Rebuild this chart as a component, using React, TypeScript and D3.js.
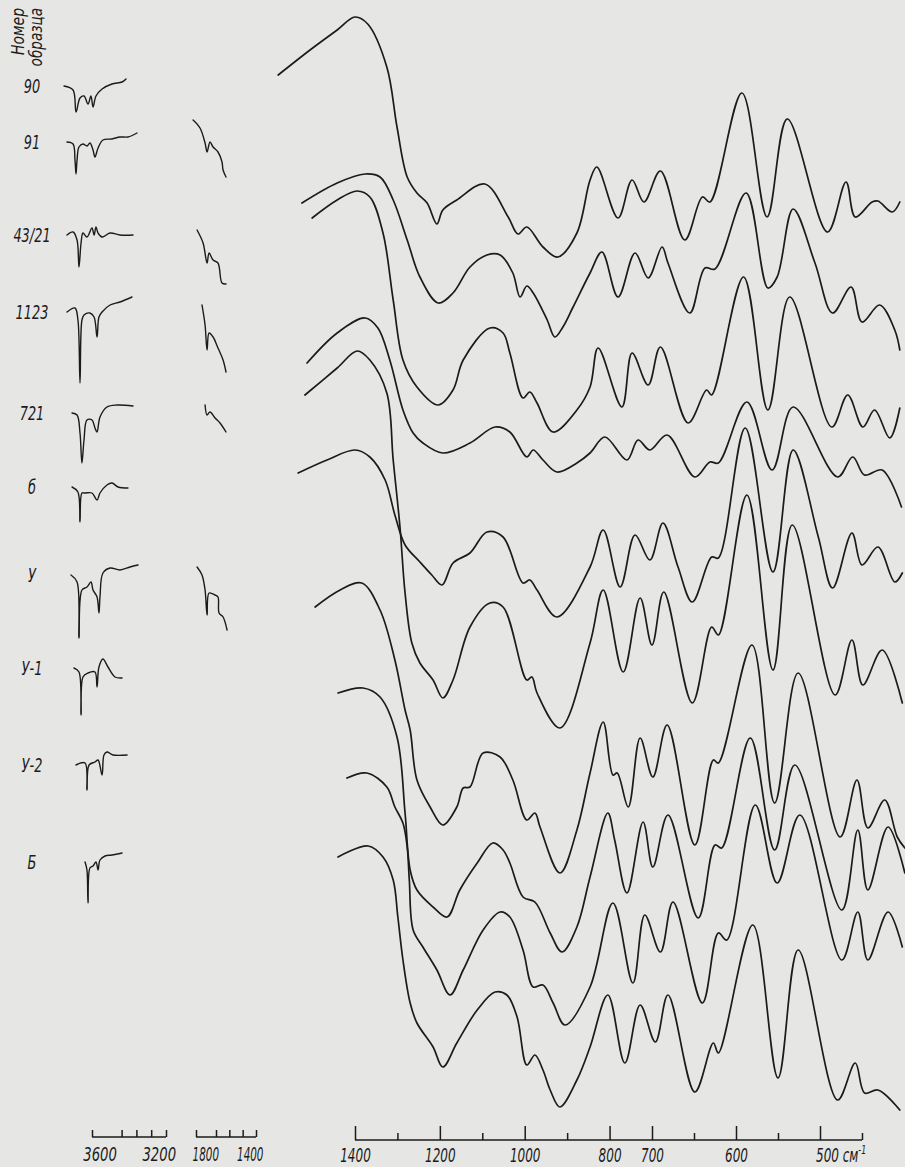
import React, { useEffect, useRef } from "react";
import * as d3 from "d3";

const W = 905;
const H = 1167;
const INK = "#1b1b1b";
const PAPER = "#e6e6e4";
const FONT = "'DejaVu Sans', 'Liberation Sans', sans-serif";

// sample numbers, top to bottom
const samples = ["90", "91", "43/21", "1123", "721", "б", "У", "У-1", "У-2", "Б"];

// main spectra, 1600-400 cm-1: [wavenumber, level] (level in chart units, growing downward)
const spec90 = [[1581,7.5],[1506,5.0],[1442,3.0],[1400,1.7],[1370,2.4],[1325,6.7],[1301,12.7],[1277,17.7],[1254,19.3],[1230,20.3],[1207,22.4],[1193,21.0],[1160,20.0],[1094,18.4],[1039,21.7],[1016,23.4],[995,22.7],[957,24.7],[922,25.7],[877,23.3],[846,18.0],[830,16.7],[780,21.8],[747,18.0],[719,20.2],[690,17.1],[661,24.0],[640,19.7],[631,20.2],[593,9.3],[563,21.7],[539,11.9],[491,23.2],[469,18.2],[458,21.7],[438,20.2],[431,20.1],[414,21.2],[405,20.2]];
const spec91 = [[1525,20.3],[1442,18.3],[1376,17.4],[1341,17.7],[1310,20.0],[1277,24.0],[1247,27.7],[1204,30.3],[1169,29.3],[1129,26.7],[1089,25.5],[1058,25.5],[1028,27.3],[1011,29.7],[995,28.6],[980,29.3],[947,32.0],[929,33.7],[910,32.7],[886,30.7],[846,27.3],[818,25.2],[780,29.7],[740,25.3],[709,27.8],[688,24.7],[681,26.3],[655,31.3],[637,26.8],[625,26.9],[588,19.3],[562,28.8],[551,27.7],[532,20.9],[506,26.3],[485,31.3],[463,28.7],[450,32.2],[429,30.5],[411,33.0],[405,35.0]];
const spec4321 = [[1501,21.8],[1442,20.0],[1395,19.1],[1365,19.7],[1334,23.3],[1310,30.0],[1287,36.0],[1254,38.7],[1204,40.5],[1169,39.0],[1145,36.0],[1082,32.8],[1051,33.3],[1035,35.3],[1004,39.8],[988,39.2],[971,40.3],[933,43.2],[877,41.0],[846,38.7],[827,34.8],[771,40.7],[747,35.3],[709,38.5],[690,34.7],[657,42.3],[635,39.0],[629,39.5],[591,27.7],[562,41.0],[536,29.7],[486,42.7],[467,39.5],[449,42.7],[435,41.0],[417,43.8],[405,40.8]];
const spec1123 = [[1513,36.3],[1442,33.3],[1376,31.8],[1346,32.8],[1318,36.0],[1287,41.0],[1263,43.3],[1240,44.3],[1193,45.3],[1129,44.3],[1070,42.7],[1035,43.2],[995,45.7],[980,45.0],[957,46.0],[924,47.2],[877,46.3],[846,45.3],[811,43.7],[759,46.0],[733,44.0],[705,45.0],[682,43.5],[649,47.7],[631,46.2],[621,46.3],[587,40.2],[557,47.0],[532,40.7],[479,47.7],[461,45.7],[447,47.5],[426,47.0],[403,50.7]];
const spec721 = [[1518,39.5],[1442,36.8],[1395,35.1],[1365,36.0],[1325,39.3],[1310,46.0],[1294,52.7],[1282,59.3],[1266,64.3],[1247,66.3],[1216,68.0],[1193,69.8],[1169,68.0],[1129,62.7],[1082,60.3],[1051,60.7],[995,68.0],[983,67.7],[971,69.3],[917,72.8],[846,64.3],[815,59.0],[768,67.2],[728,59.8],[700,64.5],[686,59.2],[652,70.3],[629,62.7],[621,63.5],[587,49.5],[556,67.0],[533,52.5],[482,69.5],[462,64.0],[449,68.5],[426,65.0],[402,70.3]];
const spec6 = [[1534,47.3],[1466,46.0],[1400,45.0],[1365,45.7],[1329,48.0],[1306,51.5],[1282,54.5],[1247,56.2],[1219,57.5],[1195,58.5],[1169,56.3],[1129,55.3],[1089,53.2],[1051,53.7],[1004,58.3],[988,58.0],[971,59.0],[924,61.7],[846,56.7],[815,53.0],[775,58.7],[740,53.5],[705,56.0],[687,52.3],[669,56.7],[652,60.2],[629,55.7],[621,55.8],[589,42.8],[556,57.2],[532,45.0],[502,53.7],[485,58.8],[462,53.3],[450,56.5],[431,54.7],[411,58.2],[402,57.3]];
const specU = [[1494,60.7],[1435,59.0],[1384,58.3],[1341,61.0],[1306,66.0],[1282,71.0],[1270,73.0],[1254,78.0],[1223,80.7],[1193,82.5],[1160,80.7],[1145,78.8],[1129,78.7],[1098,75.3],[1058,75.7],[1028,78.0],[995,82.0],[976,81.3],[964,82.7],[917,87.3],[877,83.0],[846,77.3],[815,72.2],[792,77.5],[782,77.3],[756,80.7],[728,73.8],[699,77.7],[682,72.5],[649,84.5],[627,76.0],[621,76.3],[581,64.5],[554,80.3],[526,67.3],[476,83.7],[456,78.0],[443,82.8],[423,80.0],[408,83.7],[399,84.8]];
const specU1 = [[1440,69.3],[1381,68.8],[1341,69.7],[1301,73.7],[1282,81.3],[1270,87.0],[1254,89.0],[1216,90.7],[1183,91.7],[1153,89.0],[1112,86.3],[1075,84.3],[1051,85.0],[1035,86.3],[1004,89.7],[976,90.2],[940,93.3],[912,95.2],[877,92.7],[846,87.7],[804,81.3],[788,84.0],[759,89.3],[721,82.2],[699,86.7],[681,81.5],[645,91.8],[625,84.5],[617,84.8],[583,73.8],[554,85.0],[530,76.5],[474,91.0],[455,83.0],[443,89.0],[419,82.7],[399,87.3]];
const specU2 = [[1419,77.8],[1372,77.3],[1325,78.7],[1306,80.7],[1287,82.3],[1277,84.7],[1272,88.0],[1263,93.0],[1240,94.7],[1207,97.0],[1176,99.5],[1145,97.0],[1098,93.0],[1058,91.2],[1035,91.7],[1004,95.0],[980,98.7],[957,98.5],[933,100.3],[905,102.5],[846,98.7],[792,90.3],[745,98.3],[717,91.5],[690,95.2],[675,90.2],[640,100.3],[621,93.3],[611,94.0],[577,80.5],[551,88.3],[524,81.5],[474,96.0],[455,91.2],[443,96.0],[419,91.2],[402,94.7]];
const specB = [[1440,85.7],[1369,84.6],[1334,85.7],[1310,88.0],[1299,91.7],[1287,96.0],[1270,100.3],[1254,102.3],[1216,104.7],[1193,106.7],[1160,104.3],[1112,101.0],[1070,99.2],[1042,99.5],[1018,101.7],[995,106.5],[976,105.5],[957,107.0],[940,109.0],[917,110.7],[877,108.0],[846,104.7],[804,99.5],[764,106.3],[728,100.5],[696,104.2],[681,99.5],[649,109.2],[627,104.3],[621,105.3],[580,92.5],[550,107.8],[526,95.0],[479,110.0],[458,106.3],[447,109.3],[431,109.0],[405,111.0]];
const mainSpectra = [spec90, spec91, spec4321, spec1123, spec721, spec6, specU, specU1, specU2, specB];

// OH stretching region
const oh90 = [[3889,8.6],[3828,9.0],[3808,11.2],[3781,9.8],[3754,9.6],[3727,10.4],[3707,9.6],[3693,10.7],[3673,9.6],[3632,8.9],[3565,8.4],[3497,8.2],[3470,7.9]];
const oh91 = [[3869,14.2],[3828,14.4],[3815,16.0],[3808,17.4],[3801,16.0],[3788,14.7],[3761,14.4],[3734,14.6],[3714,14.3],[3693,15.0],[3680,15.7],[3659,14.8],[3626,14.0],[3565,13.9],[3511,13.7],[3457,13.7],[3396,13.3]];
const oh4321 = [[3869,23.5],[3828,23.2],[3801,24.0],[3788,26.7],[3774,24.3],[3761,23.3],[3734,23.7],[3700,22.8],[3686,23.5],[3673,22.7],[3659,23.3],[3632,23.7],[3578,23.3],[3511,23.5],[3423,23.5]];
const oh1123 = [[3869,31.2],[3815,30.8],[3795,32.0],[3781,38.3],[3768,32.0],[3754,31.5],[3714,31.3],[3686,31.7],[3666,33.7],[3653,31.7],[3632,31.2],[3578,30.5],[3511,30.2],[3430,29.7]];
const oh721 = [[3835,41.3],[3801,41.5],[3781,43.3],[3768,46.3],[3754,44.0],[3734,42.0],[3700,42.0],[3680,42.8],[3666,43.2],[3646,41.7],[3599,40.7],[3531,40.5],[3423,40.6]];
const oh6 = [[3835,48.7],[3795,49.2],[3781,52.2],[3768,49.3],[3747,49.3],[3700,49.3],[3666,50.0],[3646,49.3],[3599,48.5],[3565,48.3],[3524,48.7],[3457,48.8]];
const ohU = [[3842,57.5],[3801,58.2],[3788,63.8],[3768,59.0],[3734,58.7],[3707,58.2],[3693,59.0],[3666,59.7],[3653,61.3],[3646,59.7],[3626,57.3],[3578,56.8],[3511,57.0],[3443,56.7],[3389,56.5]];
const ohU1 = [[3822,66.8],[3788,67.2],[3774,71.5],[3761,67.7],[3727,67.3],[3680,67.2],[3666,68.7],[3653,66.7],[3626,65.9],[3592,66.7],[3545,67.7],[3497,67.8]];
const ohU2 = [[3808,76.5],[3747,76.3],[3734,79.0],[3720,76.5],[3680,76.2],[3659,76.0],[3632,77.5],[3619,75.5],[3599,75.2],[3558,75.5],[3463,75.5]];
const ohB = [[3747,86.2],[3734,87.0],[3727,90.3],[3714,86.8],[3693,86.6],[3673,86.2],[3659,87.0],[3646,86.0],[3612,85.6],[3565,85.5],[3497,85.3]];
const ohSpectra = [oh90, oh91, oh4321, oh1123, oh721, oh6, ohU, ohU1, ohU2, ohB];

// water bending region (only recorded for some samples)
const hoh91 = [[1872,12.0],[1820,12.8],[1782,14.3],[1767,15.2],[1745,14.2],[1722,14.7],[1685,15.2],[1655,16.2],[1647,17.0],[1625,17.7]];
const hoh4321 = [[1842,23.0],[1797,24.3],[1767,26.3],[1752,25.3],[1722,26.0],[1685,26.3],[1655,28.3],[1625,28.4]];
const hoh1123 = [[1805,30.5],[1782,32.5],[1767,35.0],[1752,33.3],[1722,33.7],[1685,34.8],[1647,36.0],[1625,37.2]];
const hoh721 = [[1782,40.5],[1767,41.5],[1745,41.2],[1707,41.8],[1670,42.3],[1625,43.2]];
const hohU = [[1842,56.7],[1805,57.5],[1782,59.0],[1767,61.5],[1752,59.3],[1707,59.5],[1685,59.7],[1677,61.3],[1647,61.7],[1617,63.0]];
const hohSpectra = [hoh91, hoh4321, hoh1123, hoh721, hohU];

// axes
const mainMajorTicks = [1400, 1200, 1000, 800, 700, 600, 500];
const mainMinorTicks = [1300, 1100, 900, 650, 550, 450];
const ohTicks = [3700, 3500, 3400, 3300, 3200];
const ohLabels = [3600, 3200];
const hohTicks = [1850, 1700, 1600, 1500, 1400];
const hohLabels = [1800, 1400];

const xMain = d3.scaleLinear().domain([1400, 700, 400]).range([355, 652, 904]);
const xOH = d3.scaleLinear().domain([3700, 3200]).range([92, 166]);
const xHOH = d3.scaleLinear().domain([1850, 1400]).range([196, 256]);
const y = d3.scaleLinear().domain([0, 116.7]).range([0, H]);

type P = number[];
const mainLine = d3.line<P>().x(d => xMain(d[0])).y(d => y(d[1])).curve(d3.curveCatmullRom.alpha(0.5));
const ohLine = d3.line<P>().x(d => xOH(d[0])).y(d => y(d[1])).curve(d3.curveCatmullRom.alpha(0.5));
const hohLine = d3.line<P>().x(d => xHOH(d[0])).y(d => y(d[1])).curve(d3.curveCatmullRom.alpha(0.5));

// narrow drafting lettering: squeeze glyphs horizontally
function styleAxis(g: any, size: number, sx: number) {
  g.select(".domain").remove();
  g.selectAll("line").attr("stroke", INK).attr("stroke-width", 1.5);
  g.selectAll("text")
    .attr("fill", INK)
    .attr("font-family", FONT)
    .attr("font-style", "italic")
    .attr("font-size", size)
    .attr("transform", `scale(${sx},1)`);
}

export default function App() {
  const axRef = useRef<SVGGElement>(null);

  useEffect(() => {
    const root = d3.select(axRef.current);
    root.selectAll("*").remove();

    // main scale 1400-450
    const gm = root.append("g").attr("transform", "translate(0,1140)");
    gm.append("line")
      .attr("x1", xMain(1400)).attr("x2", xMain(450))
      .attr("stroke", INK).attr("stroke-width", 1.6);
    gm.append("g")
      .call(d3.axisBottom(xMain).tickValues(mainMinorTicks).tickSize(-7).tickFormat(() => ""))
      .call(g => styleAxis(g, 18, 0.6));
    gm.append("g")
      .call(d3.axisBottom(xMain).tickValues(mainMajorTicks).tickSize(-14).tickPadding(8)
        .tickFormat(d => (d === 500 ? "" : d3.format("d")(d as number))))
      .call(g => styleAxis(g, 20, 0.6));
    const unit = gm.append("text")
      .attr("transform", `translate(${xMain(500) - 4},22) scale(0.6,1)`)
      .attr("fill", INK).attr("font-family", FONT).attr("font-style", "italic").attr("font-size", 20);
    unit.append("tspan").text("500 см");
    unit.append("tspan").attr("dy", -8).attr("font-size", 13).text("-1");

    // OH scale
    const go = root.append("g").attr("transform", "translate(0,1137)");
    go.append("line").attr("x1", xOH(3700)).attr("x2", xOH(3200)).attr("stroke", INK).attr("stroke-width", 1.5);
    go.append("g")
      .call(d3.axisBottom(xOH).tickValues(ohTicks).tickSize(-7).tickFormat(() => ""))
      .call(g => styleAxis(g, 18, 0.6));
    go.append("g")
      .call(d3.axisBottom(xOH).tickValues(ohLabels).tickSize(0).tickPadding(10).tickFormat(d3.format("d")))
      .call(g => styleAxis(g, 20, 0.66))
      .call(g => g.selectAll("text").attr("dx", -11));

    // H2O scale
    const gh = root.append("g").attr("transform", "translate(0,1137)");
    gh.append("line").attr("x1", xHOH(1850)).attr("x2", xHOH(1400)).attr("stroke", INK).attr("stroke-width", 1.5);
    gh.append("g")
      .call(d3.axisBottom(xHOH).tickValues(hohTicks).tickSize(-7).tickFormat(() => ""))
      .call(g => styleAxis(g, 18, 0.6));
    gh.append("g")
      .call(d3.axisBottom(xHOH).tickValues(hohLabels).tickSize(0).tickPadding(10).tickFormat(d3.format("d")))
      .call(g => styleAxis(g, 20, 0.52))
      .call(g => g.selectAll("text").attr("dx", (d: number) => (d === 1400 ? -12 : 5)));
  }, []);

  return (
    <svg width={W} height={H} viewBox={`0 0 ${W} ${H}`}
      style={{ position: "absolute", left: 0, top: 0, background: PAPER }}>
      <rect width={W} height={H} fill={PAPER} />

      <g fontFamily={FONT} fontStyle="italic" fill={INK}>
        <text transform="translate(24,8) rotate(-90) scale(0.82,1)" textAnchor="end" fontSize={17}>Номер</text>
        <text transform="translate(42,8) rotate(-90) scale(0.8,1)" textAnchor="end" fontSize={17}>образца</text>
        {samples.map((s, i) => (
          <text key={s} transform={`translate(32,${y(ohSpectra[i][0][1]) + 7}) scale(0.68,1)`}
            textAnchor="middle" fontSize={19}>{s}</text>
        ))}
      </g>

      <g fill="none" stroke={INK} strokeWidth={1.4} strokeLinejoin="round" strokeLinecap="round">
        {ohSpectra.map((s, i) => <path key={"oh" + i} d={ohLine(s) || ""} />)}
        {hohSpectra.map((s, i) => <path key={"h" + i} d={hohLine(s) || ""} />)}
      </g>

      <g fill="none" stroke={INK} strokeWidth={1.7} strokeLinejoin="round" strokeLinecap="round">
        {mainSpectra.map((s, i) => <path key={"m" + i} d={mainLine(s) || ""} />)}
      </g>

      <g ref={axRef} />
    </svg>
  );
}
